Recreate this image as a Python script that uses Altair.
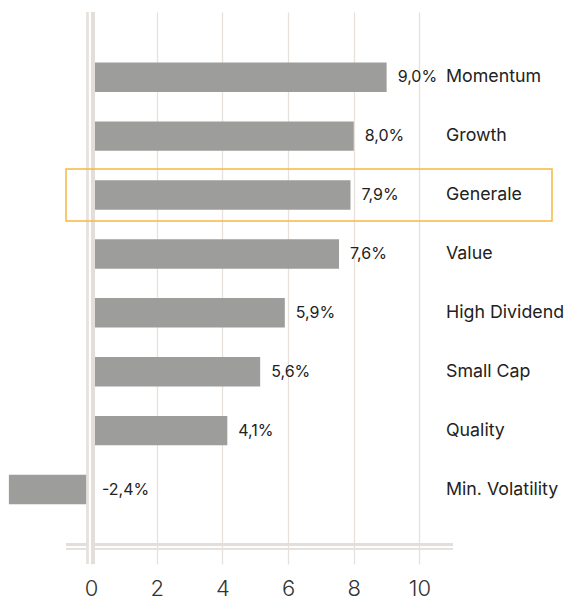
import altair as alt
import pandas as pd

categories = ["Momentum", "Growth", "Generale", "Value", "High Dividend",
              "Small Cap", "Quality", "Min. Volatility"]
# bar lengths as drawn in the picture
values = [9.0, 8.0, 7.9, 7.55, 5.9, 5.15, 4.15, -2.5]
value_labels = ["9,0%", "8,0%", "7,9%", "7,6%", "5,9%", "5,6%", "4,1%", "-2,4%"]
tick_values = [0, 2, 4, 6, 8, 10]
highlight = "Generale"

df = pd.DataFrame({
    "cat": categories,
    "value": values,
    "label": value_labels,
    "lx": [max(v, 0) for v in values],
})

FONT = "Inter"
GRID = "#e7e1de"
BAR = "#9d9d9b"
TXT = "#222222"
ORANGE = "#f6b840"

xscale = alt.Scale(domain=[-2.527, 14.4], nice=False, zero=False)
yscale = alt.Scale(domain=categories, paddingInner=0.5, paddingOuter=0.936, align=0.458)

base = alt.Chart(df)

bars = base.mark_bar(color=BAR).encode(
    x=alt.X("value:Q", scale=xscale,
            axis=alt.Axis(values=tick_values, grid=True, gridColor=GRID, gridWidth=1.3,
                          domain=False, ticks=False, labelFontSize=22, labelFont=FONT,
                          labelColor="#333333", labelPadding=14, title=None,
                          labelFontWeight=300)),
    y=alt.Y("cat:N", scale=yscale, axis=None, sort=categories),
)

white_gap = base.mark_rule(color="white", strokeWidth=8).encode(x=alt.datum(0))
thin_v = base.mark_rule(color=GRID, strokeWidth=1.5, xOffset=-3.5).encode(x=alt.datum(0))
thick_v = base.mark_rule(color="#e4dedb", strokeWidth=4, xOffset=2).encode(x=alt.datum(0))

h_thick = base.mark_rule(color="#e4dedb", strokeWidth=3).encode(
    x=alt.value(58), x2=alt.value(445), y=alt.value(532.5))
h_thin = base.mark_rule(color=GRID, strokeWidth=1.3).encode(
    x=alt.value(58), x2=alt.value(445), y=alt.value(536.8))

box = base.transform_filter(alt.datum.cat == highlight).mark_bar(
    fillOpacity=0, stroke=ORANGE, strokeWidth=1.5, height=52
).encode(
    x=alt.value(58), x2=alt.value(544),
    y=alt.Y("cat:N", axis=None, sort=categories),
)

vlabels = base.mark_text(align="left", dx=11, fontSize=16, font=FONT, color=TXT).encode(
    x=alt.X("lx:Q"),
    y=alt.Y("cat:N", axis=None, sort=categories),
    text="label:N",
)

clabels = base.mark_text(align="left", fontSize=17.8, font=FONT, color=TXT).encode(
    x=alt.value(438),
    y=alt.Y("cat:N", axis=None, sort=categories),
    text="cat:N",
)

chart = alt.layer(
    bars, h_thick, h_thin, white_gap, thin_v, thick_v, box, vlabels, clabels
).properties(
    width=556, height=552,
    autosize=alt.AutoSizeParams(type="none"),
    padding={"top": 4, "left": 0, "right": 0, "bottom": 42},
).configure_view(stroke=None)

chart.save("out.html", embed_options={"renderer": "svg", "actions": False})
